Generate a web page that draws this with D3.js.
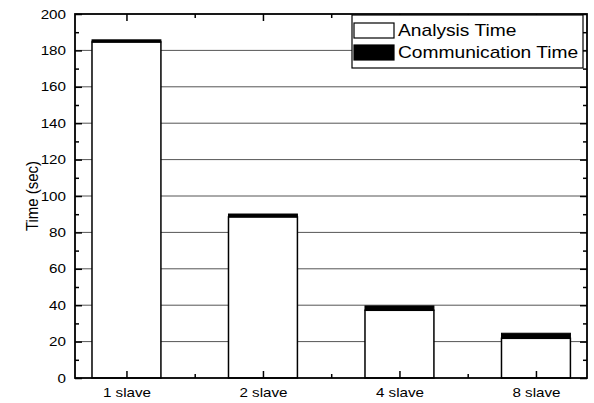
<!DOCTYPE html>
<html>
<head>
  <meta charset="utf-8">
  <script src="https://cdn.jsdelivr.net/npm/d3@7"></script>
  <style>
    body { margin: 0; background: #fff; }
    text { font-family: "Liberation Sans", Arial, sans-serif; fill: #000; }
  </style>
</head>
<body>
  <script type="text/javascript">
    // data
    var categories = ["1 slave", "2 slave", "4 slave", "8 slave"];
    var analysisTime = [184.6, 88.5, 37.2, 21.8];
    var commTime = [1.2, 1.6, 2.4, 2.8];
    var yTicks = [0, 20, 40, 60, 80, 100, 120, 140, 160, 180, 200];

    var width = 594, height = 403;
    var plotLeft = 75, plotRight = 587, plotTop = 14, plotBottom = 378;

    var svg = d3.select("body").append("svg")
        .attr("width", width)
        .attr("height", height);

    // categories sit at positions 1..4 on a linear axis
    var x = d3.scaleLinear().domain([0.623, 4.374]).range([plotLeft, plotRight]);
    var y = d3.scaleLinear().domain([0, 200]).range([plotBottom, plotTop]);
    var barW = x(1.505) - x(1);

    // horizontal grid
    svg.append("g").selectAll("line")
        .data(yTicks.slice(1, -1))
        .enter().append("line")
        .attr("x1", plotLeft).attr("x2", plotRight)
        .attr("y1", function(d) { return y(d); })
        .attr("y2", function(d) { return y(d); })
        .attr("stroke", "#555")
        .attr("stroke-width", 1);

    var bars = svg.append("g").selectAll("g")
        .data(categories)
        .enter().append("g");

    // analysis part
    bars.append("rect")
        .attr("x", function(d, i) { return x(i + 1) - barW / 2; })
        .attr("width", barW)
        .attr("y", function(d, i) { return y(analysisTime[i]); })
        .attr("height", function(d, i) { return y(0) - y(analysisTime[i]); })
        .attr("fill", "#fff")
        .attr("stroke", "#000")
        .attr("stroke-width", 1.5);

    // communication part stacked on top
    bars.append("rect")
        .attr("x", function(d, i) { return x(i + 1) - barW / 2; })
        .attr("width", barW)
        .attr("y", function(d, i) { return y(analysisTime[i] + commTime[i]); })
        .attr("height", function(d, i) { return y(analysisTime[i]) - y(analysisTime[i] + commTime[i]); })
        .attr("fill", "#000")
        .attr("stroke", "#000")
        .attr("stroke-width", 1);

    // axes: labels on left/bottom, mirrored ticks on right/top, all ticks inward
    var yMinor = d3.range(10, 200, 20);
    var xMajor = [1, 2, 3, 4];
    var xMinor = [1.5, 2.5, 3.5];

    function noDomain(g) { g.select(".domain").remove(); }
    // the scanned figure's lettering is wider than Arial, so stretch it a bit
    function labelFont(g) {
      g.select(".domain").remove();
      g.selectAll("text").each(function() {
        var t = d3.select(this);
        var tx = +t.attr("x") || 0;
        t.attr("x", 0)
         .attr("transform", "translate(" + tx + ",0) scale(1.17,1)")
         .style("font-size", "13px");
      });
    }

    svg.append("g").attr("transform", "translate(" + plotLeft + ",0)")
        .call(d3.axisLeft(y).tickValues(yTicks).tickSize(-7).tickPadding(9))
        .call(labelFont);
    svg.append("g").attr("transform", "translate(" + plotLeft + ",0)")
        .call(d3.axisLeft(y).tickValues(yMinor).tickSize(-4).tickFormat(""))
        .call(noDomain);
    svg.append("g").attr("transform", "translate(" + plotRight + ",0)")
        .call(d3.axisRight(y).tickValues(yTicks).tickSize(-7).tickFormat(""))
        .call(noDomain);
    svg.append("g").attr("transform", "translate(" + plotRight + ",0)")
        .call(d3.axisRight(y).tickValues(yMinor).tickSize(-4).tickFormat(""))
        .call(noDomain);

    svg.append("g").attr("transform", "translate(0," + plotBottom + ")")
        .call(d3.axisBottom(x).tickValues(xMajor).tickSize(-7).tickPadding(10)
          .tickFormat(function(d) { return categories[d - 1]; }))
        .call(labelFont);
    svg.append("g").attr("transform", "translate(0," + plotBottom + ")")
        .call(d3.axisBottom(x).tickValues(xMinor).tickSize(-4).tickFormat(""))
        .call(noDomain);
    svg.append("g").attr("transform", "translate(0," + plotTop + ")")
        .call(d3.axisTop(x).tickValues(xMajor).tickSize(-7).tickFormat(""))
        .call(noDomain);
    svg.append("g").attr("transform", "translate(0," + plotTop + ")")
        .call(d3.axisTop(x).tickValues(xMinor).tickSize(-4).tickFormat(""))
        .call(noDomain);

    svg.selectAll(".tick line").attr("stroke", "#000").attr("stroke-width", 1.5);

    // frame
    svg.append("rect")
        .attr("x", plotLeft).attr("y", plotTop)
        .attr("width", plotRight - plotLeft).attr("height", plotBottom - plotTop)
        .attr("fill", "none")
        .attr("stroke", "#000")
        .attr("stroke-width", 1.8);

    // y title
    svg.append("text")
        .attr("transform", "translate(38," + ((plotTop + plotBottom) / 2) + ") rotate(-90) scale(1,1.1)")
        .attr("text-anchor", "middle")
        .style("font-size", "15px")
        .text("Time (sec)");

    // legend
    var legend = svg.append("g").attr("transform", "translate(352,15)");
    legend.append("rect")
        .attr("width", 231).attr("height", 53)
        .attr("fill", "#fff").attr("stroke", "#000").attr("stroke-width", 1.2);
    var items = [{name: "Analysis Time", fill: "#fff"}, {name: "Communication Time", fill: "#000"}];
    var li = legend.selectAll(".item").data(items).enter().append("g")
        .attr("class", "item")
        .attr("transform", function(d, i) { return "translate(2," + (8 + i * 22) + ")"; });
    li.append("rect")
        .attr("width", 40).attr("height", 15)
        .attr("fill", function(d) { return d.fill; })
        .attr("stroke", "#000").attr("stroke-width", 1.2);
    li.append("text")
        .attr("transform", "translate(44,13) scale(1.2,1)")
        .style("font-size", "16px")
        .text(function(d) { return d.name; });
  </script>
</body>
</html>
